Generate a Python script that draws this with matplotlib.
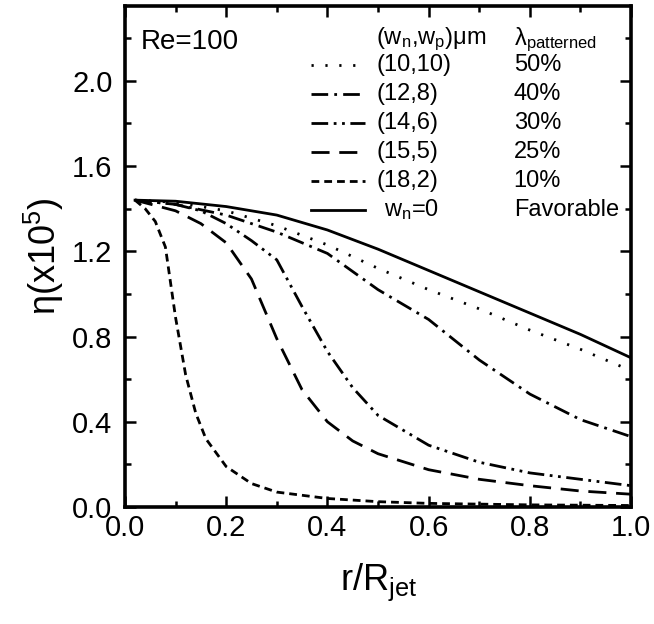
"Film thickness profiles for patterned surfaces, Re=100"

import numpy as np
import matplotlib
matplotlib.use("Agg")
import matplotlib.pyplot as plt
from matplotlib.lines import Line2D

plt.rcParams['font.family'] = ['Liberation Sans', 'DejaVu Sans']
plt.rcParams['mathtext.fontset'] = 'custom'
plt.rcParams['mathtext.rm'] = 'Liberation Sans'
plt.rcParams['mathtext.it'] = 'Liberation Sans'

# curve data (r/R_jet, eta x1e5)
x_10_10 = [0.02, 0.1, 0.2, 0.3, 0.4, 0.5, 0.6, 0.7, 0.8, 0.9, 1.0]
y_10_10 = [1.44, 1.43, 1.39, 1.32, 1.23, 1.12, 1.02, 0.93, 0.83, 0.74, 0.64]

x_12_8 = [0.02, 0.1, 0.2, 0.3, 0.4, 0.5, 0.6, 0.7, 0.8, 0.9, 1.0]
y_12_8 = [1.44, 1.42, 1.37, 1.29, 1.19, 1.02, 0.88, 0.69, 0.53, 0.41, 0.33]

x_14_6 = [0.02, 0.1, 0.15, 0.2, 0.25, 0.3, 0.35, 0.4, 0.45, 0.5, 0.6, 0.7, 0.8, 0.9, 1.0]
y_14_6 = [1.44, 1.42, 1.39, 1.33, 1.25, 1.16, 0.94, 0.73, 0.56, 0.43, 0.29, 0.21, 0.16, 0.13, 0.10]

x_15_5 = [0.02, 0.1, 0.15, 0.2, 0.25, 0.3, 0.35, 0.4, 0.45, 0.5, 0.6, 0.7, 0.8, 0.9, 1.0]
y_15_5 = [1.44, 1.39, 1.33, 1.24, 1.07, 0.79, 0.55, 0.40, 0.31, 0.25, 0.175, 0.13, 0.10, 0.075, 0.06]

x_18_2 = [0.02, 0.04, 0.06, 0.08, 0.1, 0.12, 0.14, 0.16, 0.2, 0.25, 0.3, 0.4, 0.5, 0.6, 0.8, 1.0]
y_18_2 = [1.44, 1.40, 1.34, 1.22, 0.89, 0.62, 0.44, 0.32, 0.19, 0.11, 0.07, 0.04, 0.025, 0.017, 0.01, 0.007]

x_fav = [0.02, 0.1, 0.2, 0.3, 0.4, 0.5, 0.6, 0.7, 0.8, 0.9, 1.0]
y_fav = [1.44, 1.435, 1.41, 1.37, 1.30, 1.21, 1.11, 1.01, 0.91, 0.81, 0.70]

widths = ['(10,10)', '(12,8)', '(14,6)', '(15,5)', '(18,2)', 'w$_\\mathregular{n}$=0']
fractions = ['50%', '40%', '30%', '25%', '10%', 'Favorable']

# dash patterns are in units of line width
styles = [(0, (0.8, 4.2)), (0, (6, 2.2, 1, 2.2)), (0, (6, 2, 1, 2, 1, 2)),
          (0, (6.5, 3.5)), (0, (2.8, 1.8)), '-']
lw = 2.0

fig = plt.figure(figsize=(6.54, 6.24), dpi=100)
ax = fig.add_axes([0.191, 0.1875, 0.774, 0.8025])

curves = [(x_10_10, y_10_10), (x_12_8, y_12_8), (x_14_6, y_14_6),
          (x_15_5, y_15_5), (x_18_2, y_18_2), (x_fav, y_fav)]
for (xs, ys), ls in zip(curves, styles):
    ax.plot(xs, ys, color='black', linestyle=ls, lw=lw)

ax.set_xlim(0, 1.0)
ax.set_ylim(0, 2.35)
ax.set_xticks(np.arange(0, 1.01, 0.2))
ax.set_xticks(np.arange(0, 1.01, 0.1), minor=True)
ax.set_yticks(np.arange(0, 2.01, 0.4))
ax.set_yticks(np.arange(0, 2.35, 0.2), minor=True)
ax.xaxis.set_major_formatter(matplotlib.ticker.FormatStrFormatter('%.1f'))
ax.yaxis.set_major_formatter(matplotlib.ticker.FormatStrFormatter('%.1f'))
ax.tick_params(which='both', direction='in', top=True, right=True, width=1.8, labelsize=21)
ax.tick_params(which='major', length=8)
ax.tick_params(which='minor', length=4.3)
ax.tick_params(axis='x', pad=5)
ax.tick_params(axis='y', pad=9)
for s in ax.spines.values():
    s.set_linewidth(2.6)

ax.set_xlabel('r/R$_\\mathregular{jet}$', fontsize=26, labelpad=14)
ax.set_ylabel('η(x10$^\\mathregular{5}$)', fontsize=26, labelpad=4)

ax.text(0.032, 0.929, 'Re=100', transform=ax.transAxes, fontsize=20, va='center')

# hand-made two-column legend
ax.text(0.497, 0.933, '(w$_\\mathregular{n}$,w$_\\mathregular{p}$)\u03bcm',
        transform=ax.transAxes, fontsize=17, va='center')
ax.text(0.768, 0.933, 'λ$_\\mathregular{patterned}$', transform=ax.transAxes,
        fontsize=17, va='center')
row0, step = 0.883, 0.058
for i in range(len(widths)):
    yy = row0 - i * step
    ax.add_line(Line2D([0.368, 0.475], [yy, yy], transform=ax.transAxes,
                       color='black', linestyle=styles[i], lw=lw))
    xt = 0.512 if i == len(widths) - 1 else 0.497
    ax.text(xt, yy, widths[i], transform=ax.transAxes, fontsize=17, va='center')
    ax.text(0.768, yy, fractions[i], transform=ax.transAxes, fontsize=17, va='center')

fig.savefig('out.png', dpi=100)
